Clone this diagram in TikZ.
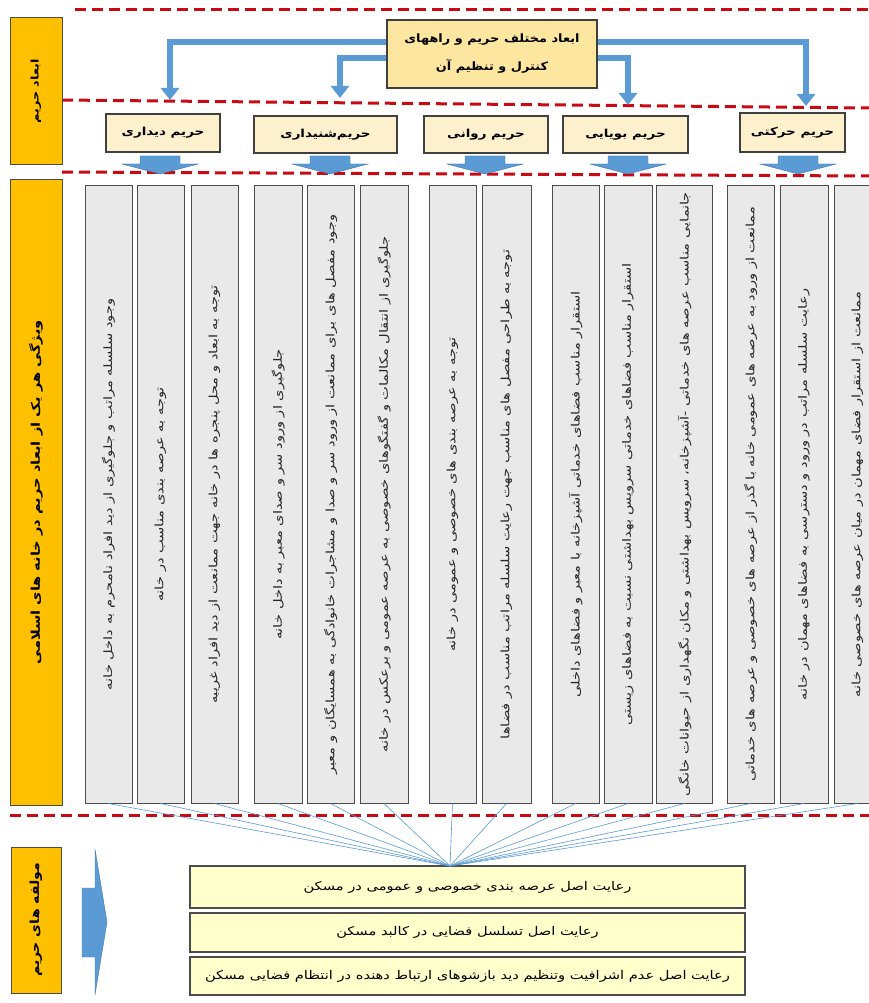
\documentclass[tikz,border=0pt]{standalone}
\usepackage{fontspec}
\setmainfont{DejaVu Sans}
\newfontfamily\faA[Script=Arabic,FakeStretch=1.27]{DejaVu Sans}
\newfontfamily\faB[Script=Arabic,FakeStretch=1.22]{DejaVu Sans}
\newfontfamily\faC[Script=Arabic,FakeStretch=1.12]{DejaVu Sans}
\TeXXeTstate=1
\usetikzlibrary{arrows.meta}
\newcommand{\fatxt}[1]{{\beginR #1\endR}}
\definecolor{dashred}{RGB}{200,10,20}
\definecolor{gold}{RGB}{255,192,0}
\definecolor{topfill}{RGB}{253,230,160}
\definecolor{hdrfill}{RGB}{252,240,205}
\definecolor{colgray}{RGB}{233,233,233}
\definecolor{btmfill}{RGB}{255,255,204}
\definecolor{arrblue}{RGB}{91,155,213}
\definecolor{arrblueD}{RGB}{65,113,170}
\definecolor{fanblue}{RGB}{91,155,213}
\begin{document}
\begin{tikzpicture}[x=1pt,y=-1pt,
  reddash/.style={draw=dashred, line width=3pt, dash pattern=on 11pt off 6pt},
  colbox/.style={draw=black!70, line width=1pt, fill=colgray, rotate=90, minimum width=617pt, minimum height=47pt, inner sep=0pt, text=black!85, font=\faA\fontsize{11.5}{13}\selectfont},
  hdr/.style={draw=black!75, line width=1.2pt, fill=hdrfill, inner sep=0pt, font=\faB\fontsize{11}{13}\selectfont\bfseries},
  sidebox/.style={draw=black!70, line width=1pt, fill=gold, inner sep=0pt, rotate=90, minimum height=52pt},
  btmbox/.style={draw=black!70, line width=1.5pt, fill=btmfill, minimum width=555pt, inner sep=0pt, font=\faB\fontsize{12}{14}\selectfont},
  bigarrow/.style={draw=arrblue, line width=6pt, -{Triangle[width=18pt,length=12pt]}},
  downarr/.style={fill=arrblue, draw=arrblueD, line width=0.4pt},
  fan/.style={draw=fanblue, line width=0.6pt}
]
\useasboundingbox (0,0) rectangle (869,1003);
\fill[white] (0,0) rectangle (869,1003);

% red dashed separators
\draw[reddash] (75,10) -- (869,10);
\draw[reddash] (62,100) -- (869,108);
\draw[reddash] (62,172) -- (869,176);
\draw[reddash] (10,815) -- (869,815);

% left yellow labels
\node[sidebox, minimum width=147pt, font=\faB\fontsize{10.5}{12}\selectfont\bfseries] (s1) at (36,91.5) {\fatxt{ابعاد حریم}};
\node[sidebox, minimum width=625pt, font=\faB\fontsize{12}{14}\selectfont\bfseries] (s2) at (36,492.5) {\fatxt{ویژگی هر یک از ابعاد حریم در خانه های اسلامی}};
\node[sidebox, minimum width=146pt, minimum height=50pt, font=\faC\fontsize{12.5}{14}\selectfont\bfseries] (s3) at (36,920) {\fatxt{مولفه های حریم}};

% top box
\node[draw=black!75, line width=1.2pt, fill=topfill, minimum width=210pt, minimum height=68pt, inner sep=0pt, align=center, font=\faC\fontsize{11.5}{30}\selectfont\bfseries] (top) at (492,54) {\fatxt{ابعاد مختلف حریم و راههای}\\[-2pt]\fatxt{کنترل و تنظیم آن}};

% headers
\node[hdr, minimum width=114pt, minimum height=38pt] (h1) at (163,133) {\fatxt{حریم دیداری}};
\node[hdr, minimum width=143pt, minimum height=37pt] (h2) at (325.5,134.5) {\fatxt{حریم‌شنیداری}};
\node[hdr, minimum width=124pt, minimum height=37pt] (h3) at (486,134.5) {\fatxt{حریم روانی}};
\node[hdr, minimum width=125pt, minimum height=37pt] (h4) at (625.5,134.5) {\fatxt{حریم بویایی}};
\node[hdr, minimum width=105pt, minimum height=39pt] (h5) at (792.5,132.5) {\fatxt{حریم حرکتی}};

% arrows from top box
\coordinate (ya) at (0,42);
\coordinate (yb) at (0,58);
\coordinate (t1) at (170,100);
\coordinate (t2) at (340,98);
\coordinate (t3) at (628,105);
\coordinate (t4) at (806,106);
\draw[bigarrow] (top.west |- ya) -| (t1);
\draw[bigarrow] (top.west |- yb) -| (t2);
\draw[bigarrow] (top.east |- yb) -| (t3);
\draw[bigarrow] (top.east |- ya) -| (t4);

% small down arrows under headers
\foreach \cx in {160,330,485,628,798}{
  \draw[downarr] (\cx-20,156) -- (\cx+20,156) -- (\cx+20,164) -- (\cx+38,164) -- (\cx,174) -- (\cx-38,164) -- (\cx-20,164) -- cycle;
}

% columns
\node[colbox] (c1) at (108.5,494.5) {\fatxt{وجود سلسله مراتب و جلوگیری از دید افراد نامحرم به داخل خانه}};
\node[colbox] (c2) at (160.5,494.5) {\fatxt{توجه به عرصه بندی مناسب در خانه}};
\node[colbox] (c3) at (214.5,494.5) {\fatxt{توجه به ابعاد و محل پنجره ها در خانه جهت ممانعت از دید افراد غریبه}};
\node[colbox, minimum height=48pt] (c4) at (278,494.5) {\fatxt{جلوگیری از ورود سر و صدای معبر به داخل خانه}};
\node[colbox] (c5) at (330.5,494.5) {\fatxt{وجود مفصل های برای ممانعت از ورود سر و صدا و مشاجرات خانوادگی به همسایگان و معبر}};
\node[colbox, minimum height=48pt] (c6) at (384,494.5) {\fatxt{جلوگیری از انتقال مکالمات و گفتگوهای خصوصی به عرصه عمومی و برعکس در خانه}};
\node[colbox] (c7) at (452.5,494.5) {\fatxt{توجه به عرصه بندی های خصوصی و عمومی در خانه}};
\node[colbox, minimum height=49pt] (c8) at (506.5,494.5) {\fatxt{توجه به طراحی مفصل های مناسب جهت رعایت سلسله مراتب مناسب در فضاها}};
\node[colbox] (c9) at (575.5,494.5) {\fatxt{استقرار مناسب فضاهای خدماتی آشپزخانه با معبر و فضاهای داخلی}};
\node[colbox, minimum height=48pt] (c10) at (628,494.5) {\fatxt{استقرار مناسب فضاهای خدماتی سرویس بهداشتی نسبت به فضاهای زیستی}};
\node[colbox, minimum height=56pt] (c11) at (684.5,494.5) {\fatxt{جانمایی مناسب عرصه های خدماتی -آشپزخانه، سرویس بهداشتی و مکان نگهداری از حیوانات خانگی}};
\node[colbox] (c12) at (750.5,494.5) {\fatxt{ممانعت از ورود به عرصه های عمومی خانه با گذر از عرصه های خصوصی و عرصه های خدماتی}};
\node[colbox, minimum height=48pt] (c13) at (804,494.5) {\fatxt{رعایت سلسله مراتب در ورود و دسترسی به فضاهای مهمان در خانه}};
\node[colbox] (c14) at (857.5,494.5) {\fatxt{ممانعت از استقرار فضای مهمان در میان عرصه های خصوصی خانه}};

% bottom boxes
\node[btmbox, minimum height=42pt] (b1) at (467.5,887) {\fatxt{رعایت اصل عرصه بندی خصوصی و عمومی در مسکن}};
\node[btmbox, minimum height=39pt] (b2) at (467.5,932.5) {\fatxt{رعایت اصل تسلسل فضایی در کالبد مسکن}};
\node[btmbox, minimum height=38pt] (b3) at (467.5,976) {\fatxt{رعایت اصل عدم اشرافیت وتنظیم دید بازشوهای ارتباط دهنده در انتظام فضایی مسکن}};

% fan connectors
\coordinate (fanpt) at (450,866);
\foreach \i in {1,...,14}{
  \draw[fan] (c\i.west) -- (fanpt);
}

% left chevron arrow
\draw[fill=arrblue, draw=arrblue!80!black, line width=0.4pt] (82,888) -- (95,888) -- (95,849) -- (107,922) -- (95,995) -- (95,957) -- (82,957) -- cycle;
\end{tikzpicture}
\end{document}
